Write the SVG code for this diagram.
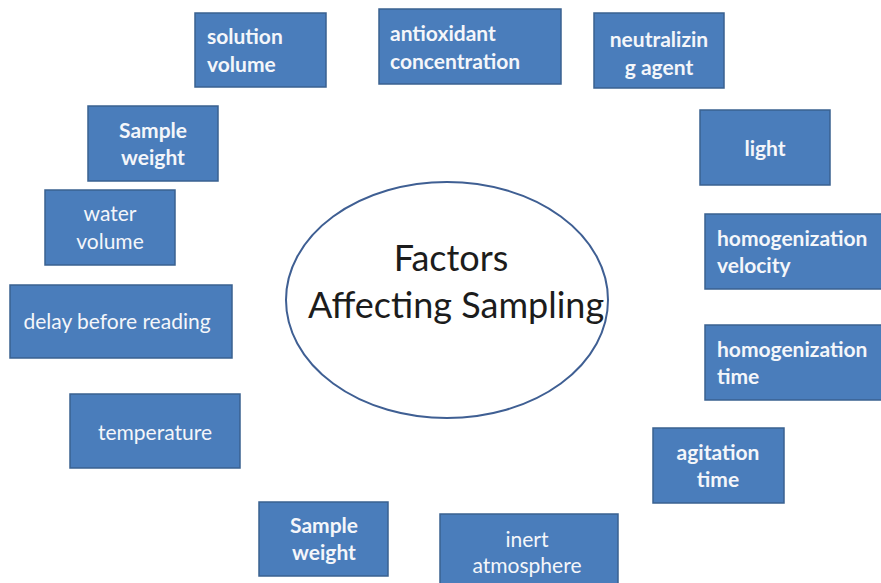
<svg xmlns="http://www.w3.org/2000/svg" width="881" height="583" viewBox="0 0 881 583">
  <style>
    .box { fill: #4a7dbb; stroke: #3a6190; stroke-width: 1.5; }
    .lbl { font-family: Lato, "Liberation Sans", sans-serif; font-size: 21px; fill: #f4f6fa; }
    .b { font-weight: bold; }
    .c { text-anchor: middle; }
    .hub { fill: #ffffff; stroke: #3f5f93; stroke-width: 2; }
    .title { font-family: Lato, "Liberation Sans", sans-serif; font-size: 36px; fill: #1c1c1c; text-anchor: middle; }
  </style>

  <rect width="881" height="583" fill="#ffffff"/>

  <!-- central topic -->
  <g id="hub">
    <ellipse class="hub" cx="447" cy="300" rx="161" ry="118"/>
    <text class="title" x="451" y="271">Factors</text>
    <text class="title" x="456" y="318">Affecting Sampling</text>
  </g>

  <!-- factor boxes -->
  <g id="solution-volume">
    <rect class="box" x="195" y="13" width="131" height="74"/>
    <text class="lbl b" x="207" y="44">solution</text>
    <text class="lbl b" x="207" y="72">volume</text>
  </g>

  <g id="antioxidant-concentration">
    <rect class="box" x="379" y="9" width="182" height="75"/>
    <text class="lbl b" x="390" y="41">antioxidant</text>
    <text class="lbl b" x="390" y="69">concentration</text>
  </g>

  <g id="neutralizing-agent">
    <rect class="box" x="594" y="13" width="130" height="75"/>
    <text class="lbl b c" x="659" y="47">neutralizin</text>
    <text class="lbl b c" x="659" y="75">g agent</text>
  </g>

  <g id="light">
    <rect class="box" x="700" y="110" width="130" height="75"/>
    <text class="lbl b c" x="765" y="156">light</text>
  </g>

  <g id="sample-weight-top">
    <rect class="box" x="88" y="106" width="130" height="75"/>
    <text class="lbl b c" x="153" y="138">Sample</text>
    <text class="lbl b c" x="153" y="165">weight</text>
  </g>

  <g id="water-volume">
    <rect class="box" x="45" y="190" width="130" height="75"/>
    <text class="lbl c" x="110" y="221">water</text>
    <text class="lbl c" x="110" y="249">volume</text>
  </g>

  <g id="homogenization-velocity">
    <rect class="box" x="705" y="214" width="180" height="75"/>
    <text class="lbl b" x="717" y="246">homogenization</text>
    <text class="lbl b" x="717" y="273">velocity</text>
  </g>

  <g id="delay-before-reading">
    <rect class="box" x="10" y="285" width="222" height="73"/>
    <text class="lbl c" x="117" y="329">delay before reading</text>
  </g>

  <g id="homogenization-time">
    <rect class="box" x="705" y="325" width="180" height="75"/>
    <text class="lbl b" x="717" y="357">homogenization</text>
    <text class="lbl b" x="717" y="384">time</text>
  </g>

  <g id="temperature">
    <rect class="box" x="70" y="394" width="170" height="74"/>
    <text class="lbl c" x="155" y="440">temperature</text>
  </g>

  <g id="agitation-time">
    <rect class="box" x="653" y="428" width="131" height="75"/>
    <text class="lbl b c" x="718" y="460">agitation</text>
    <text class="lbl b c" x="718" y="487">time</text>
  </g>

  <g id="sample-weight-bottom">
    <rect class="box" x="259" y="502" width="129" height="74"/>
    <text class="lbl b c" x="324" y="533">Sample</text>
    <text class="lbl b c" x="324" y="560">weight</text>
  </g>

  <g id="inert-atmosphere">
    <rect class="box" x="440" y="514" width="178" height="75"/>
    <text class="lbl c" x="527" y="547">inert</text>
    <text class="lbl c" x="527" y="573">atmosphere</text>
  </g>
</svg>
